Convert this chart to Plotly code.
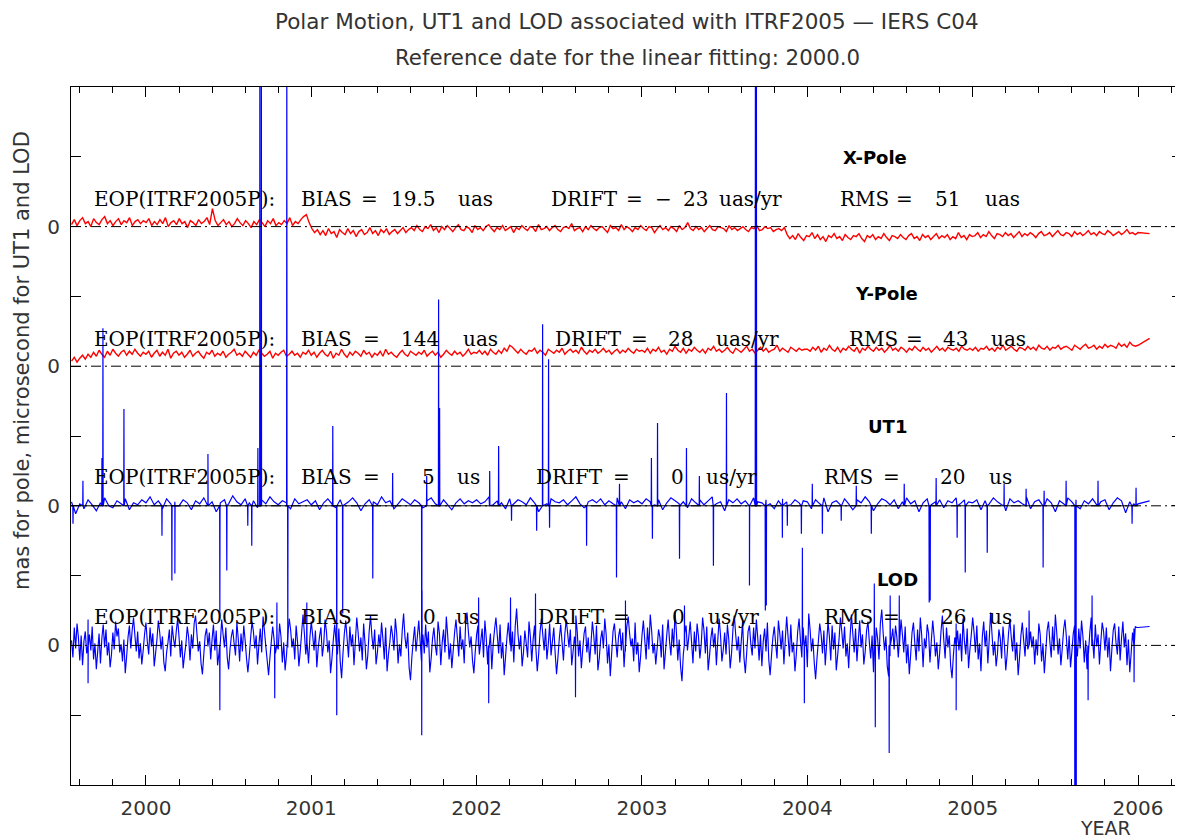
import plotly.graph_objects as go

# ---------------- data (plot units: 1 unit ~ 1/70 of a y tick) ----------------
T0 = 1999.55          # first sample (decimal year)
T_FIRST_END = 2006.0  # last regular sample
T_LAST = 2006.07      # final (extrapolated) point

years = [2000, 2001, 2002, 2003, 2004, 2005, 2006]

xpole = [2, 7, 1, 6, 9, 3, 5, 0, 8, 4, 2, 7, 10, 3, 6, 1, 5, 8, 2, 6, 4, 9, 1, 5, 7, 3, 6,
         4, 8, 1, 5, 2, 7, 3, 9, 0, 4, 6, 2, 8, 3, 5, -1, 6, 4, 1, 7, 3, 5, 9, 2, 18, 6, 1, 4, 7, 2, 5, 0, 3, 8,
         4, 1, 6, 3, -1, 5, 2, 7, 4, 0, 6, 3, 8, 1, 4, 2, 6, 3, 9, 1, 5, 3, 7, 10, 12, 4,
         -2, -6, -3, -8, -4, -9, -2, -7, -5, -11, -3, -6, -8, -2, -7, -4, -10, -5, -3, -8, -6, -1, -7, -4, -9, -3, -6, -2, -8, -5, -3, -7, -4, -1, -6, -3,
         -1, -4, 1, -3, -5, 0, -2, 2, -4, -1, -6, 0, -3, 1, -2, -5, -1, 2, -3, -4, 0, -2, -6, 1, -3, -1, -4, 0, 2, -2, -5, -1, -3, 1, -4, -2, 0, -6, -1, -3,
         1, -2, -4, 0, -1, -5, 2, -3, -2, 0, -4, -1, 1, -3, -5, -1, 0, -2, 3, -4, -2, -1, -5, 0, -3, 1, -2, -4, -1, 0, -3, -6, 1, -2, -1, -4, 2, -3, 0, -2,
         -5, -1, -3, 1, -2, -4, 0, -1, -6, -2, 1, -3, -1, -4, 0, -2, -5, 1, -3, -1, 4, -2, -4, 0, -3, -1, -5, -2, 1, -3, -4, 0, -1, -2, -5, 1, -3, -1, -4, -2,
         0, -3, -5, -1, -2, 1, -4, -3, 0, -2, -1, -5, -3, -2, -4, -1,
         -8, -12, -9, -13, -7, -11, -14, -9, -10, -6, -12, -8, -13, -10, -15, -9, -11, -7, -12, -10, -14, -8, -11, -13, -9, -10, -7, -12, -15, -9, -11, -8, -13, -10, -12, -7, -11, -14, -9, -10,
         -12, -8, -11, -13, -9, -7, -12, -10, -14, -8, -11, -9, -13, -10, -7, -12, -9, -11, -8, -13, -10, -12, -6, -11, -9, -13, -8, -10,
         -9, -6, -11, -8, -10, -5, -9, -12, -7, -8, -10, -6, -9, -7, -11, -8, -5, -10, -7, -9, -6, -8, -11, -7, -5, -9, -8, -6, -10, -7,
         -4, -8, -9, -6, -7, -10, -5, -8, -6, -9, -7, -4, -8, -6, -9, -5, -7, -8, -4, -6, -9, -7, -5, -8, -6, -3, -7, -6, -8, -6]
xpole_last = -7

ypole = [5, 9, 4, 8, 11, 7, 12, 9, 14, 10, 16, 12, 9, 15, 11, 17, 13, 10, 14, 16, 11, 15, 12, 17, 13, 10, 14,
         12, 15, 9, 13, 16, 10, 14, 11, 17, 8, 13, 15, 11, 14, 9, 12, 16, 10, 13, 15, 11, 8, 14, 12, 16, 10, 13, 11, 15, 9, 12, 14, 17, 11,
         13, 10, 15, 12, 9, 14, 11, 16, 13, 10, 12, 15, 8, 13, 11, 14, 16, 10, 12, 15, 11, 13, 9, 14, 12, 16,
         11, 14, 9, 13, 16, 12, 10, 15, 8, 13, 11, 17, 12, 9, 14, 11, 15, 13, 10, 16, 12, 14, 9, 13, 11, 15, 10, 17, 12, 14,
         11, 9, 13, 16, 12, 10, 15, 13, 11, 14, 12, 16, 10, 13, 15, 11, 14, 9, 12, 16, 13, 11, 15, 12, 14, 10, 13, 17, 12, 14,
         13, 16, 12, 15, 11, 17, 14, 12, 16, 13, 18, 15, 21, 19, 16, 13, 17, 14, 12, 16, 15, 18, 13, 16, 14, 11, 17, 15, 13, 16,
         14, 18, 12, 15, 17, 14, 16, 13, 19, 15, 12, 16, 14, 17, 13, 15, 18, 14, 16, 12, 15, 17, 13, 16, 14, 18, 15, 13, 17, 15,
         16, 14, 18, 13, 17, 15, 19, 14, 16, 12, 17, 15, 20, 16, 14, 18, 13, 17, 15, 19, 16, 14, 17, 13, 18, 16, 20, 15, 17, 14,
         16, 19, 15, 13, 18, 16, 14, 17, 20, 15, 17, 13, 16, 19, 15, 18, 14, 16, 17, 21, 15, 18, 16, 14, 19, 17, 15, 18, 16, 17,
         17, 15, 19, 16, 20, 14, 18, 16, 21, 17, 15, 19, 14, 18, 16, 20, 17, 15, 19, 13, 18, 16, 20, 17, 15, 19, 16, 18, 14, 17,
         21, 16, 18, 15, 19, 17, 14, 18, 16, 20, 17, 15, 19, 16, 18, 14, 17, 20, 16, 18, 15, 19, 17, 16, 18, 15, 20, 17, 16, 18,
         16, 19, 15, 18, 17, 20, 16, 18, 15, 19, 17, 21, 16, 18, 20, 17, 15, 19, 18, 16, 20, 17, 19, 16, 21, 18, 17, 20, 16, 19,
         18, 21, 17, 19, 20, 18, 16, 21, 19, 17, 20, 22, 18, 19, 21, 17, 20, 18, 22, 19, 21, 20, 18, 23, 20, 22, 19, 24, 21, 20, 21]
ypole_last = 28

ut1 = [4, -8, 2, -3, 6, 1, -5, 3, 8, 0, -2, 5, 2, 7, -4, 3, 1, 6,
       3, 9, 1, 5, -3, 7, 2, 4, 0, 6, 3, -4, 5, 2, 8, 1, 4, -6, 3, 6, 2, 10, 4, 1, 7, 3, 5, -2, 6, 2, 9, 4, 1, 5, 3, -3, 7, 2, 4, 6,
       1, 5, -4, 3, 7, 2, -2, 6, 1, 4, 8, 3, -5, 2, 6, 4, 1, 9, 3, 5, -3, 2, 7, 4, 1, 6, 3, -2, 5, 8, 2, 4, 6, 1, -4, 3, 7, 2, 5, 3,
       6, 2, 4, 9, 1, 5, 3, -3, 7, 2, 6, 4, 1, 8, 3, -6, 5, 2, 7, 4, 3, 6, 1, 5, 9, 2, -2, 4, 6, 3, 7, 1, 5, 2, 8, 4, -3, 6, 3, 5,
       2, 7, 4, 1, 6, -4, 3, 8, 5, 2, 4, -2, 7, 3, 6, 1, 5, 9, 2, 4, -5, 6, 3, 7, 2, 5, 1, 8, 4, 3, 6, 2, -3, 5, 7, 4, 1, 6, 3, 5,
       4, -3, 6, 2, 8, -6, 3, 5, 1, 7, 2, -4, 6, 3, 9, 4, -5, 2, 7, 5, 1, 6, -3, 4, 8, 2, 5, -6, 3, 7, 1, 4, 6, -2, 5, 3, 8, 2, 6, 4,
       3, 6, -4, 5, 2, 8, 4, 1, -5, 7, 3, 5, 2, 9, -3, 4, 6, 1, 7, 3, -6, 5, 2, 8, 4, 6, -3, 5, 2, 7, 1, 4, 6, -4, 3, 8, 5, -7, 4, 2,
       2]
ut1_last = 5

ut1_spike_t = [1999.559, 1999.619, 1999.734, 1999.740, 1999.867, 2000.097, 2000.157, 2000.175, 2000.375,
               2000.447, 2000.489, 2000.616, 2000.640, 2000.677, 2000.689, 2000.698, 2000.852, 2000.858,
               2001.130, 2001.154, 2001.190, 2001.372, 2001.492, 2001.668, 2001.698, 2001.770, 2001.776,
               2002.079, 2002.133, 2002.211, 2002.363, 2002.399, 2002.435, 2002.441, 2002.665, 2002.846,
               2002.864, 2003.057, 2003.063, 2003.094, 2003.227, 2003.269, 2003.347, 2003.432, 2003.511,
               2003.650, 2003.686, 2003.692, 2003.746, 2003.752, 2003.849, 2003.879, 2003.964, 2004.030,
               2004.091, 2004.205, 2004.296, 2004.387, 2004.586, 2004.737, 2004.743, 2004.779, 2004.906,
               2004.955, 2005.088, 2005.190, 2005.323, 2005.426, 2005.432, 2005.565, 2005.619, 2005.625,
               2005.758, 2005.964, 2005.988]
ut1_spike_v = [-18, 25, 48, 178, 97, -30, -75, -68, 52,
               -110, -65, -20, -40, 58, 480, 470, 480, -142,
               80, -210, -108, -73, 33, -230, 30, 207, 98,
               35, 60, -15, -25, 182, 147, -22, -40, -72,
               22, 48, -33, 83, -53, 58, 30, -60, 113,
               -80, 480, 470, -105, -100, -32, -20, -28, 22,
               -28, -15, 20, -28, 22, -97, -95, 28, -32,
               -67, -47, 22, 17, -62, 15, 25, -300, -300,
               25, -18, 18]

lod = [5, -12, 18, -3, 22, 8, -15, 10, -20, 4, 14, -8, 26, 11, -5, 19, -14, 2, -24, -6, 12, -18, 7, 21, -2,
       16, -10, 3, -22, -9, 13, -4, 24, 9, 17, -7, 1, -16, 6, -28, -11, 8, 20, -3, 15, 28, 10, -6, 14, -13,
       2, -19, -5, 11, 23, 4, -9, 18, -1, 12, -21, -8, 6, 25, 13, -4, 9, -17, -26, -7, 3, 16, -11, 20, 7,
       -2, 14, 27, 9, -12, 5, -23, -10, 1, 19, 8, -15, 11, -3, 22, 30, 12, -6, 4, -18, -29, -9, 10, 17, -1,
       13, -14, 6, 21, -5, 15, -20, -8, 3, 26, 11, -2, 18, -12, -24, -4, 9, 16, 2, -10, 23, 7, -16, 12, -6,
       20, 5, -13, -27, -11, 8, 24, 14, -3, 10, -19, 1, 17, -7, 29, 15, -1, -15, -30, -12, 4, 19, 6, -8, 13,
       -4, 22, 9, -17, 3, -25, -10, 11, 27, 16, -2, 7, -14, 20, 4, -21, -6, 13, 31, 12, -9, 2, -18, 8, 24,
       10, -5, 15, -22, -3, 9, 18, -11, 1, 26, 14, -7, 5, -28, -13, 6, 21, 3, -9, 17, -16, -33, -8, 12, 25,
       7, -12, 19, -1, 11, -20, 4, 28, 13, -6, 8, -15, 22, 2, -24, -10, 14, 30, 9, -4, 16, -19, -7, 11, -2,
       23, 6, -14, 18, -26, -9, 3, 20, 10, -5, 27, 12, -18, 1, -11, 15, 32, 8, -3, 13, -22, -35, -12, 5, 19,
       -6, 9, 25, 4, -16, 11, -8, 21, -2, 14, -27, -13, 7, 18, 0, -10, 24, 12, -20, 3, 16, -7, 29, 10, -14,
       2, -23, -5, 13, 26, 8, -11, 19, -4, 6, -18, 22, 33, 14, -2, 9, -15, -28, -6, 11, 20, -9, 4, 17, -12,
       25, 7, -19, -3, 12, -24, 1, 16, 28, 10, -8, 21, -13, 3, -30, -11, 8, 23, 5, -6, 14, -17, 19, 37, 12,
       -4, 10, -21, -7, 15, 2, -12, 24, 9, -16, 6, 20, -3, -26, -9, 13, 27, 11, -5, 17, -14, 1, 22, -10, 4,
       18, -8, -29, -12, 7, 21, 3, -15, 11, 26, 13, -2, 16, -20, -6, 9, 30, 14, -11, 5, -23, -4, 12, 19, -7,
       8, -17, 2, 24, 10, -9, 20, -25, -13, 6, 15, -3, 27, 11, -18, 1, -31, -8, 14, 22, 4, -12, 9, 17, -5,
       13, -22, -6, 19, 29, 12, -1, 7, -16, 23, -9, 3, -27, -11, 10, 25, 6, -14, 18, -4, 31, 15, -8, 2, -19,
       -3, 16, 8, -12, 21, -24, -7, 11, 26, 4, -10, 17, -2, 34, 13, -15, 6, -21, -36, -9, 12, 20, -5, 9, 24,
       3, -18, 14, -6, 22, 9, -13, 1, 28, 15, -8, 19, -25, -11, 7, 18, -2, 12, -20, 5, 27, 10, -16, -4, 13,
       -9, 21, 6, -23, -8, 16, 30, 11, -5, 9, -17, 3, 24, -12, -28, -7, 14, 20, 1, -10, 18, -3, 26, 8, -15,
       11, -21, 4, 17, -6, 23, -14, -30, -10, 8, 19, 2, -13, 25, 12, -4, 15, -19, 6, 29, 9, -11, 21, -7, 3,
       -26, -9, 14, 27, 5, -12, 18, -2, 10, -22, 32, 16, -6, 7, -17, -34, -13, 4, 22, 11, -8, 15, -20, 1, 24,
       9, -15, 20, -4, 13, -25, -10, 6, 28, 14, -3, 19, -11, 2, -23, 8, 31, 12, -7, 17, -16, 5, 25, -2, 11,
       -19, -6, 15, 24, 3, -13, 10, -27, -8, 18, 7, -14, 22, 36, 13, -5, 9, -21, -31, -11, 6, 17, -4, 20, 8,
       -12, 4, 26, 11, -7, 19, -18, 1, -29, -9, 13, 23, 2, -15, 16, -6, 28, 10, -22, 7, -3, 21, 12, -17, 5,
       25, 9, -11, 3, -24, -8, 14, 30, 6, -13, 18, -2, 10, -20, -33, -10, 8, 22, 15, -5, 12, -16, 27, 4, -9,
       17, -23, -4, 11, 28, 13, -7, 20, -14, 2, -26, 9, 24, -1, 15, -18, 6, 33, 12, -10, 4, -21, -8, 16, 7,
       -13, 19, 1, -25, -9, 12, 26, 8, -6, 21, -15, 3, -30, -12, 10, 23, 5, -11, 18, -4, 29, 14, -2, 9, -19,
       6, -10, 22, 11, -16, 2, -28, -7, 15, 24, 4, -12, 19, -5, 31, 13, -9, 7, -20, -3, 16, 26, 8, -14, 10,
       -22, -6, 12, 20, 1, -11, 17, -3, 25, 9, -17, 5, -24, -8, 13, 28, 6, -13, 21, -1, 11, -19, 4, 23, 14,
       -5, 18, -12, 8, -26, -4, 15, 22, 3, -9, 19, -15, 7, 24, -2, 12, -20, 6, -27, -8, 13, 17, 19, 18, 18]
lod_last = 19

lod_spike_t = [1999.650, 2000.447, 2000.779, 2000.792, 2000.973, 2001.668, 2002.012, 2002.073, 2002.205,
               2002.356, 2002.598, 2002.900, 2003.257, 2003.970, 2003.982, 2004.405, 2004.411, 2004.495,
               2004.501, 2004.556, 2004.900, 2005.341, 2005.619, 2005.625, 2005.698, 2005.722, 2005.976]
lod_spike_v = [-38, -65, -53, 43, 43, 55, 48, -58, 48,
               52, -52, 45, 40, 98, -58, 62, -82, -108,
               50, 50, -65, 35, -160, -160, -55, 50, -37]

series_names = ["X-Pole", "Y-Pole", "UT1", "LOD"]
series_offsets = [420, 280, 140, 0]

stats_text = [
    ["EOP(ITRF2005P):", "BIAS", "=", "19.5", "uas", "DRIFT", "=", "\u2212", "23", "uas/yr", "RMS", "=", "51", "uas"],
    ["EOP(ITRF2005P):", "BIAS", "=", "144", "uas", "DRIFT", "=", "28", "uas/yr", "RMS", "=", "43", "uas"],
    ["EOP(ITRF2005P):", "BIAS", "=", "5", "us", "DRIFT", "=", "0", "us/yr", "RMS", "=", "20", "us"],
    ["EOP(ITRF2005P):", "BIAS", "=", "0", "us", "DRIFT", "=", "0", "us/yr", "RMS", "=", "26", "us"],
]

# ---------------- layout helpers (pixels of the 1183x840 page) ----------------
BODY = 8                      # default page margin around the figure
W, H = 1183 - BODY, 840 - BODY
PL, PR, PT, PB = 71, 1182, 87, 785
XMIN = 2000 - 75 / 165.5
XMAX = 2006 + (PR - 1138) / 165.5


def px(x):
    return (x - PL) / (PR - PL)


def py(y):
    return (PB - y) / (PB - PT)


stats_px = [
    [93, 300, 360, 390, 457, 550, 625, 654, 682, 718, 839, 895, 934, 984],
    [93, 300, 362, 400, 462, 554, 630, 667, 715, 848, 905, 942, 990],
    [93, 300, 362, 421, 456, 535, 612, 670, 705, 823, 882, 939, 988],
    [93, 300, 362, 422, 455, 537, 612, 671, 707, 823, 882, 940, 988],
]
stats_py = [199, 339, 477, 617]
name_pos = [(875, 157), (886, 293), (887, 426), (897, 579)]


def build(vals, last, spike_t=None, spike_v=None):
    step = (T_FIRST_END - T0) / (len(vals) - 1)
    pts = [(T0 + i * step, v) for i, v in enumerate(vals)]
    pts.append((T_LAST, last))
    if spike_t:
        for t, v in zip(spike_t, spike_v):
            pts += [(t - 0.0012, 0), (t, v), (t + 0.0012, 0)]
    pts.sort(key=lambda p: p[0])
    return [p[0] for p in pts], [p[1] for p in pts]


fig = go.Figure()

specs = [
    (xpole, xpole_last, None, None, "#ff0000", 1.4),
    (ypole, ypole_last, None, None, "#ff0000", 1.4),
    (ut1, ut1_last, ut1_spike_t, ut1_spike_v, "#0000ff", 1.2),
    (lod, lod_last, lod_spike_t, lod_spike_v, "#0000ff", 1.15),
]
for (vals, last, st, sv, col, lw), off, name in zip(specs, series_offsets, series_names):
    xs, ys = build(vals, last, st, sv)
    fig.add_trace(go.Scatter(x=xs, y=[off + v for v in ys], mode="lines",
                             line=dict(color=col, width=lw, simplify=False), name=name, showlegend=False,
                             hoverinfo="skip"))

# zero reference lines (drawn above the data)
for off in series_offsets:
    fig.add_shape(type="line", xref="x", yref="y", x0=XMIN, x1=XMAX, y0=off, y1=off,
                  line=dict(color="black", width=1, dash="10px,4px,2px,4px"), layer="above")
fig.add_shape(type="line", xref="x", yref="y", x0=XMIN, x1=2006.0, y0=series_offsets[2], y1=series_offsets[2],
              line=dict(color="black", width=1), layer="above")

ann = []
SANS = "DejaVu Sans"
SERIF = "DejaVu Serif"
ann.append(dict(text="Polar Motion, UT1 and LOD associated with ITRF2005 \u2014 IERS C04",
                x=px(627), y=py(BODY + 0.5), xref="paper", yref="paper", showarrow=False,
                xanchor="center", yanchor="top", borderpad=0,
                font=dict(family=SANS, size=21.5, color="#333")))
ann.append(dict(text="Reference date for the linear fitting: 2000.0",
                x=px(627.5), y=py(58), xref="paper", yref="paper", showarrow=False,
                xanchor="center", yanchor="middle", font=dict(family=SANS, size=21.3, color="#333")))
ann.append(dict(text="mas for pole, microsecond for UT1 and LOD",
                x=px(22), y=py(361), xref="paper", yref="paper", showarrow=False, textangle=-90,
                xanchor="center", yanchor="middle", font=dict(family=SANS, size=21, color="#333")))
ann.append(dict(text="YEAR", x=px(1105), y=py(828), xref="paper", yref="paper", showarrow=False,
                xanchor="center", yanchor="middle", font=dict(family=SANS, size=19, color="#333")))

for texts, xs_, yy in zip(stats_text, stats_px, stats_py):
    for t, xx in zip(texts, xs_):
        ann.append(dict(text=t, x=px(xx), y=py(yy), xref="paper", yref="paper", showarrow=False,
                        xanchor="left", yanchor="middle", borderpad=0,
                        font=dict(family=SERIF, size=20, color="black")))

for name, (xx, yy) in zip(series_names, name_pos):
    ann.append(dict(text="<b>" + name + "</b>", x=px(xx), y=py(yy), xref="paper", yref="paper",
                    showarrow=False, xanchor="center", yanchor="middle",
                    font=dict(family=SANS, size=18, color="black")))

ytickvals = list(range(-70, 491, 70))
yticktext = ["0" if v in series_offsets else "" for v in ytickvals]

fig.update_layout(
    width=W, height=H,
    margin=dict(l=PL - BODY, r=1183 - PR, t=PT - BODY, b=840 - PB),
    paper_bgcolor="white", plot_bgcolor="white",
    annotations=ann,
    xaxis=dict(range=[XMIN, XMAX], tickmode="array", tickvals=years, ticktext=[str(y) for y in years],
               ticks="inside", ticklen=10, tickcolor="black", tickwidth=1,
               minor=dict(tick0=2000, dtick=0.2, ticks="inside", ticklen=6, tickcolor="black"),
               showline=True, linecolor="black", linewidth=1, mirror="allticks",
               showgrid=False, zeroline=False, ticklabelstandoff=5,
               tickfont=dict(family=SANS, size=20, color="#333")),
    yaxis=dict(range=[-140, 560], tickmode="array", tickvals=ytickvals, ticktext=yticktext,
               ticks="inside", ticklen=10, tickcolor="black", tickwidth=1,
               showline=True, linecolor="black", linewidth=1, mirror="allticks",
               showgrid=False, zeroline=False, ticklabelstandoff=6,
               tickfont=dict(family=SANS, size=20, color="#333")),
)

fig.write_html("out.html")
